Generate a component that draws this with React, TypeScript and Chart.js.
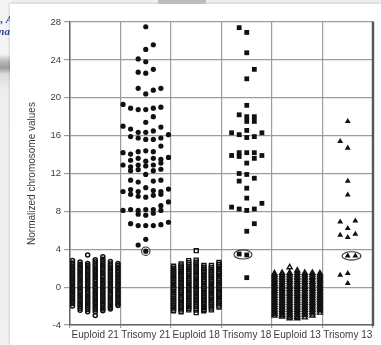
import React, { useEffect, useRef } from 'react';
import { Chart, registerables } from 'chart.js';

Chart.register(...registerables);

// ---------- data ----------
const columnLabels = ['Euploid 21', 'Trisomy 21', 'Euploid 18', 'Trisomy 18', 'Euploid 13', 'Trisomy 13'];
const yMin = -4;
const yMax = 28;
const yStep = 4;
const slotWidth = 0.15; // horizontal spacing of sub-columns, in column units

// Euploid samples: 7 strips per group, values from top to bottom
const euploid21 = [
  [2.8, 2.55, 2.36, 2.17, 1.98, 1.8, 1.61, 1.42, 1.24, 1.05, 0.87, 0.68, 0.5, 0.31, 0.12, -0.06, -0.25, -0.43, -0.62, -0.8, -0.99, -1.17, -1.36, -1.55, -1.73, -2.0],
  [2.65, 2.42, 2.24, 2.05, 1.86, 1.68, 1.49, 1.3, 1.12, 0.93, 0.75, 0.56, 0.37, 0.19, 0.0, -0.18, -0.37, -0.55, -0.74, -0.93, -1.11, -1.3, -1.48, -1.67, -1.86, -2.05, -2.22, -2.45],
  [3.4, 2.5, 2.31, 2.12, 1.94, 1.75, 1.57, 1.38, 1.2, 1.01, 0.82, 0.64, 0.45, 0.27, 0.08, -0.1, -0.29, -0.48, -0.66, -0.85, -1.03, -1.22, -1.4, -1.59, -1.78, -1.96, -2.15, -2.35, -2.6],
  [2.9, 2.68, 2.47, 2.28, 2.1, 1.91, 1.72, 1.54, 1.35, 1.17, 0.98, 0.79, 0.61, 0.42, 0.24, 0.05, -0.13, -0.32, -0.51, -0.69, -0.88, -1.06, -1.25, -1.44, -1.62, -1.81, -1.99, -2.18, -2.38, -2.6, -3.0],
  [3.2, 2.95, 2.72, 2.52, 2.33, 2.14, 1.96, 1.77, 1.58, 1.4, 1.21, 1.03, 0.84, 0.65, 0.47, 0.28, 0.1, -0.09, -0.28, -0.46, -0.65, -0.83, -1.02, -1.21, -1.39, -1.58, -1.76, -1.95, -2.14, -2.3, -2.5],
  [2.7, 2.48, 2.29, 2.1, 1.92, 1.73, 1.55, 1.36, 1.17, 0.99, 0.8, 0.62, 0.43, 0.24, 0.06, -0.13, -0.31, -0.5, -0.69, -0.87, -1.06, -1.24, -1.43, -1.62, -1.8, -1.99, -2.15, -2.3],
  [2.5, 2.3, 2.11, 1.93, 1.74, 1.55, 1.37, 1.18, 1.0, 0.81, 0.62, 0.44, 0.25, 0.07, -0.12, -0.3, -0.49, -0.68, -0.86, -1.05, -1.23, -1.42, -1.6, -1.78, -1.95],
];

const euploid18 = [
  [2.2, 2.0, 1.81, 1.62, 1.44, 1.25, 1.07, 0.88, 0.69, 0.51, 0.32, 0.14, -0.05, -0.23, -0.42, -0.61, -0.79, -0.98, -1.16, -1.35, -1.53, -1.72, -1.91, -2.1, -2.3, -2.5],
  [2.45, 2.24, 2.05, 1.86, 1.68, 1.49, 1.31, 1.12, 0.93, 0.75, 0.56, 0.38, 0.19, 0.01, -0.18, -0.37, -0.55, -0.74, -0.92, -1.11, -1.29, -1.48, -1.67, -1.85, -2.04, -2.22, -2.4, -2.6],
  [2.8, 2.58, 2.38, 2.19, 2.0, 1.82, 1.63, 1.45, 1.26, 1.08, 0.89, 0.7, 0.52, 0.33, 0.15, -0.04, -0.22, -0.41, -0.6, -0.78, -0.97, -1.15, -1.34, -1.52, -1.71, -1.9, -2.08, -2.25, -2.4],
  [3.85, 2.85, 2.63, 2.43, 2.24, 2.05, 1.87, 1.68, 1.5, 1.31, 1.12, 0.94, 0.75, 0.57, 0.38, 0.2, 0.01, -0.17, -0.36, -0.55, -0.73, -0.92, -1.1, -1.29, -1.47, -1.66, -1.85, -2.03, -2.22, -2.42, -2.7],
  [2.3, 2.1, 1.91, 1.72, 1.54, 1.35, 1.17, 0.98, 0.79, 0.61, 0.42, 0.24, 0.05, -0.13, -0.32, -0.51, -0.69, -0.88, -1.06, -1.25, -1.43, -1.62, -1.81, -1.99, -2.18, -2.35, -2.5],
  [2.3, 2.09, 1.9, 1.71, 1.53, 1.34, 1.16, 0.97, 0.78, 0.6, 0.41, 0.23, 0.04, -0.14, -0.33, -0.52, -0.7, -0.89, -1.07, -1.26, -1.44, -1.63, -1.82, -2.0, -2.2, -2.4],
  [2.6, 2.4, 2.2, 2.01, 1.83, 1.64, 1.46, 1.27, 1.09, 0.9, 0.71, 0.53, 0.34, 0.16, -0.03, -0.21, -0.4, -0.59, -0.77, -0.96, -1.14, -1.33, -1.51, -1.7, -1.9, -2.1],
];

const euploid13 = [
  [1.45, 1.27, 1.08, 0.9, 0.71, 0.53, 0.34, 0.15, -0.03, -0.22, -0.4, -0.59, -0.77, -0.96, -1.15, -1.33, -1.52, -1.7, -1.89, -2.07, -2.26, -2.45, -2.63, -2.82, -3.0],
  [1.5, 1.31, 1.13, 0.94, 0.76, 0.57, 0.38, 0.2, 0.01, -0.17, -0.36, -0.54, -0.73, -0.92, -1.1, -1.29, -1.47, -1.66, -1.84, -2.03, -2.22, -2.4, -2.59, -2.77, -2.95, -3.1],
  [2.1, 1.5, 1.32, 1.13, 0.95, 0.76, 0.58, 0.39, 0.2, 0.02, -0.17, -0.35, -0.54, -0.72, -0.91, -1.1, -1.28, -1.47, -1.65, -1.84, -2.02, -2.21, -2.4, -2.58, -2.77, -2.95, -3.12, -3.3],
  [1.75, 1.5, 1.31, 1.12, 0.94, 0.75, 0.57, 0.38, 0.2, 0.01, -0.18, -0.36, -0.55, -0.73, -0.92, -1.1, -1.29, -1.48, -1.66, -1.85, -2.03, -2.22, -2.4, -2.59, -2.78, -2.96, -3.13, -3.3],
  [1.5, 1.32, 1.13, 0.95, 0.76, 0.57, 0.39, 0.2, 0.02, -0.17, -0.35, -0.54, -0.73, -0.91, -1.1, -1.28, -1.47, -1.65, -1.84, -2.03, -2.21, -2.4, -2.58, -2.77, -2.95, -3.2],
  [1.5, 1.31, 1.12, 0.94, 0.75, 0.57, 0.38, 0.19, 0.01, -0.18, -0.36, -0.55, -0.73, -0.92, -1.11, -1.29, -1.48, -1.66, -1.85, -2.04, -2.22, -2.41, -2.59, -2.78, -3.0],
  [1.45, 1.26, 1.08, 0.89, 0.71, 0.52, 0.33, 0.15, -0.04, -0.22, -0.41, -0.59, -0.78, -0.97, -1.15, -1.34, -1.52, -1.71, -1.9, -2.08, -2.27, -2.45, -2.7],
];

// Trisomy samples: value and horizontal slot (-3..3) in the swarm
const trisomy21Values = [27.5, 25.6, 25.1, 24.1, 23.8, 23.0, 22.7, 22.6, 21.0, 20.4, 20.8, 21.0, 19.3, 18.9, 18.75, 18.75, 18.9, 19.0, 18.0, 17.4, 17.0, 16.7, 16.35, 16.35, 16.5, 16.9, 15.9, 15.75, 15.6, 15.6, 15.75, 16.1, 14.9, 14.2, 14.05, 14.3, 14.4, 14.3, 13.4, 13.6, 13.3, 13.6, 13.5, 13.7, 12.9, 12.7, 12.9, 12.8, 12.9, 13.1, 12.3, 12.4, 11.9, 12.3, 12.45, 11.3, 11.1, 11.2, 11.3, 10.1, 10.3, 10.1, 10.5, 10.2, 10.1, 10.35, 9.8, 9.6, 9.5, 9.7, 9.8, 9.0, 8.6, 8.1, 8.2, 8.1, 8.2, 8.2, 8.1, 7.7, 7.6, 7.8, 6.7, 6.5, 6.5, 6.5, 6.6, 6.85, 5.05, 4.45, 3.8];
const trisomy21Slots = [0, 1, 0, -1, 0, 1, -1, 0, -1, 0, 1, 2, -3, -2, -1, 0, 1, 2, 1, 0, -3, -2, -1, 0, 1, 2, -2, -1, 0, 1, 2, 3, 2, -3, -2, -1, 0, 1, -2, -1, 0, 1, 2, 3, -3, -2, -1, 0, 1, 2, -2, -1, 0, 1, 2, -2, -1, 1, 2, -3, -2, -1, 0, 1, 2, 3, -2, -1, 0, 1, 2, 3, 2, -3, -2, -1, 0, 1, 2, -1, 0, 1, -2, -1, 0, 1, 2, 3, 0, -1, 0];

const trisomy18Values = [27.4, 26.9, 24.75, 23.0, 22.0, 19.2, 18.2, 18.0, 18.0, 17.5, 17.5, 16.3, 16.1, 16.55, 15.8, 15.9, 16.3, 13.9, 14.2, 13.8, 14.2, 14.2, 13.9, 13.1, 13.6, 12.0, 11.9, 11.5, 11.2, 10.45, 9.4, 8.85, 8.45, 8.25, 8.1, 8.25, 6.7, 5.9, 3.5, 3.4, 1.0];
const trisomy18Slots = [-1, 0, 0, 1, 0, 0, -1, 0, 1, 0, 1, -2, -1, 0, 0, 1, 2, -2, -1, -1, 0, 1, 2, 0, 1, -1, 0, 1, -1, 0, 0, 2, -2, -1, 0, 1, 1, 0, -1, 0, 0];

const trisomy13Values = [17.5, 15.4, 14.7, 11.2, 9.75, 6.9, 7.0, 6.2, 5.5, 5.25, 5.6, 3.3, 3.3, 1.27, 1.45, 0.4];
const trisomy13Slots = [0, -1, 0, 0, 0, -1, 1, 0, -1, 0, 1, 0, 1, -1, 0, 0];

// circled samples (values within their group)
const circledT21 = [3.8];
const circledT18 = [3.5, 3.4];
const circledT13 = [3.3];

// ---------- helpers ----------
function stripPoints(col: number, strips: number[][]) {
  return strips.flatMap((vals, s) => vals.map((v) => ({ x: col + 0.5 + (s - 3) * slotWidth, y: v })));
}
function swarmPoints(col: number, values: number[], slots: number[]) {
  return values.map((v, i) => ({ x: col + 0.5 + slots[i] * slotWidth, y: v }));
}

const ink = '#111';

const annotations = [
  { dataset: 1, values: circledT21, rx: 4.2, ry: 4.2 },
  { dataset: 3, values: circledT18, rx: 9, ry: 4.6 },
  { dataset: 5, values: circledT13, rx: 9.5, ry: 4.2 },
];

const decorPlugin = {
  id: 'decor',
  afterDatasetsDraw(chart: any) {
    const { ctx, chartArea } = chart;
    ctx.save();
    ctx.strokeStyle = '#333';
    ctx.lineWidth = 1.1;
    annotations.forEach((a) => {
      const meta = chart.getDatasetMeta(a.dataset);
      const data = chart.data.datasets[a.dataset].data as { x: number; y: number }[];
      const pts = meta.data.filter((_: any, i: number) => a.values.includes(data[i].y));
      if (!pts.length) return;
      const cx = pts.reduce((s: number, p: any) => s + p.x, 0) / pts.length;
      const cy = pts.reduce((s: number, p: any) => s + p.y, 0) / pts.length;
      ctx.beginPath();
      ctx.ellipse(cx, cy, a.rx, a.ry, 0, 0, Math.PI * 2);
      ctx.stroke();
    });
    ctx.strokeStyle = '#555';
    ctx.lineWidth = 2.4;
    ctx.beginPath();
    ctx.moveTo(chartArea.right, chartArea.top - 0.5);
    ctx.lineTo(chartArea.right, chartArea.bottom + 1);
    ctx.stroke();
    ctx.restore();
  },
};

export default function App() {
  const ref = useRef<HTMLCanvasElement>(null);

  useEffect(() => {
    Chart.defaults.font.family = "'Liberation Sans', Arial, sans-serif";
    const chart = new Chart(ref.current as HTMLCanvasElement, {
      type: 'scatter',
      data: {
        datasets: [
          {
            label: columnLabels[0],
            data: stripPoints(0, euploid21),
            pointStyle: 'circle',
            pointRadius: 2,
            borderWidth: 1.5,
            borderColor: ink,
            backgroundColor: 'rgba(0,0,0,0)',
          },
          {
            label: columnLabels[1],
            data: swarmPoints(1, trisomy21Values, trisomy21Slots),
            pointStyle: 'circle',
            pointRadius: 2.6,
            borderWidth: 0,
            backgroundColor: ink,
          },
          {
            label: columnLabels[2],
            data: stripPoints(2, euploid18),
            pointStyle: 'rect',
            pointRadius: 2.8,
            borderWidth: 1.4,
            borderColor: ink,
            backgroundColor: 'rgba(0,0,0,0)',
          },
          {
            label: columnLabels[3],
            data: swarmPoints(3, trisomy18Values, trisomy18Slots),
            pointStyle: 'rect',
            pointRadius: 3.4,
            borderWidth: 0,
            backgroundColor: ink,
          },
          {
            label: columnLabels[4],
            data: stripPoints(4, euploid13),
            pointStyle: 'triangle',
            pointRadius: 2.9,
            borderWidth: 1.4,
            borderColor: ink,
            backgroundColor: 'rgba(0,0,0,0)',
          },
          {
            label: columnLabels[5],
            data: swarmPoints(5, trisomy13Values, trisomy13Slots),
            pointStyle: 'triangle',
            pointRadius: 3.4,
            borderWidth: 0,
            backgroundColor: ink,
          },
        ],
      },
      options: {
        animation: false,
        responsive: false,
        maintainAspectRatio: false,
        layout: { padding: { top: 22, right: 8, left: 0, bottom: 0 } },
        plugins: { legend: { display: false }, tooltip: { enabled: false } },
        scales: {
          x: {
            type: 'linear',
            min: 0,
            max: columnLabels.length,
            afterBuildTicks: (s: any) => {
              s.ticks = columnLabels.map((_, i) => ({ value: i + 0.5 }));
            },
            afterFit: (s: any) => {
              s.height = 20;
            },
            ticks: {
              callback: (_v: any, i: number) => columnLabels[i],
              padding: 1,
              maxRotation: 0,
              autoSkip: false,
              color: '#3c3c3c',
              font: { size: 10 },
            },
            grid: { offset: true, color: '#9c9c9c', lineWidth: 1.2, tickLength: 3 },
            border: { color: '#666', width: 1.5 },
          },
          y: {
            min: yMin,
            max: yMax,
            afterFit: (s: any) => {
              s.width = 70;
            },
            ticks: { stepSize: yStep, padding: 3, color: '#3c3c3c', font: { size: 9.5 } },
            grid: { color: '#9c9c9c', lineWidth: 1.2, tickLength: 6 },
            border: { color: '#666', width: 1.5 },
            title: {
              display: true,
              text: 'Normalized chromosome values',
              color: '#3c3c3c',
              font: { size: 10 },
              padding: { top: 26, bottom: 0 },
            },
          },
        },
      } as any,
      plugins: [decorPlugin],
    });
    return () => chart.destroy();
  }, []);

  return (
    <div
      style={{
        position: 'fixed',
        left: 0,
        top: 0,
        width: 381,
        height: 345,
        background: '#efefef',
        overflow: 'hidden',
      }}
    >
      <div
        style={{
          position: 'absolute',
          left: 0,
          top: 0,
          width: 12,
          height: 345,
          background:
            'linear-gradient(to bottom, #f4f4f4 0px, #f4f4f4 54px, #b4b4b4 62px, #9c9c9c 68px, #dcdcdc 74px, #eeeeee 90px, #f0f0f0 345px)',
        }}
      />
      <div
        style={{
          position: 'absolute',
          left: 158,
          top: 0,
          width: 48,
          height: 6,
          background: 'linear-gradient(to bottom, #b8b8b8, #dedede)',
        }}
      />
      <div
        style={{
          position: 'absolute',
          left: -40,
          top: 13,
          width: 53,
          textAlign: 'right',
          font: "italic bold 11px 'Liberation Serif', 'DejaVu Serif', serif",
          lineHeight: '12px',
          color: '#2b4a8a',
          whiteSpace: 'nowrap',
          filter: 'blur(0.3px)',
        }}
      >
        <div>et al., A</div>
        <div>Journal</div>
      </div>
      <div
        style={{
          position: 'absolute',
          left: 10,
          top: 4,
          right: 0,
          bottom: 0,
          background: '#ffffff',
          boxShadow: '-1px -1px 2px rgba(0,0,0,0.12)',
        }}
      />
      <canvas
        ref={ref}
        width={381}
        height={345}
        style={{ position: 'absolute', left: 0, top: 0, width: 381, height: 345, filter: 'blur(0.3px)' }}
      />
    </div>
  );
}
